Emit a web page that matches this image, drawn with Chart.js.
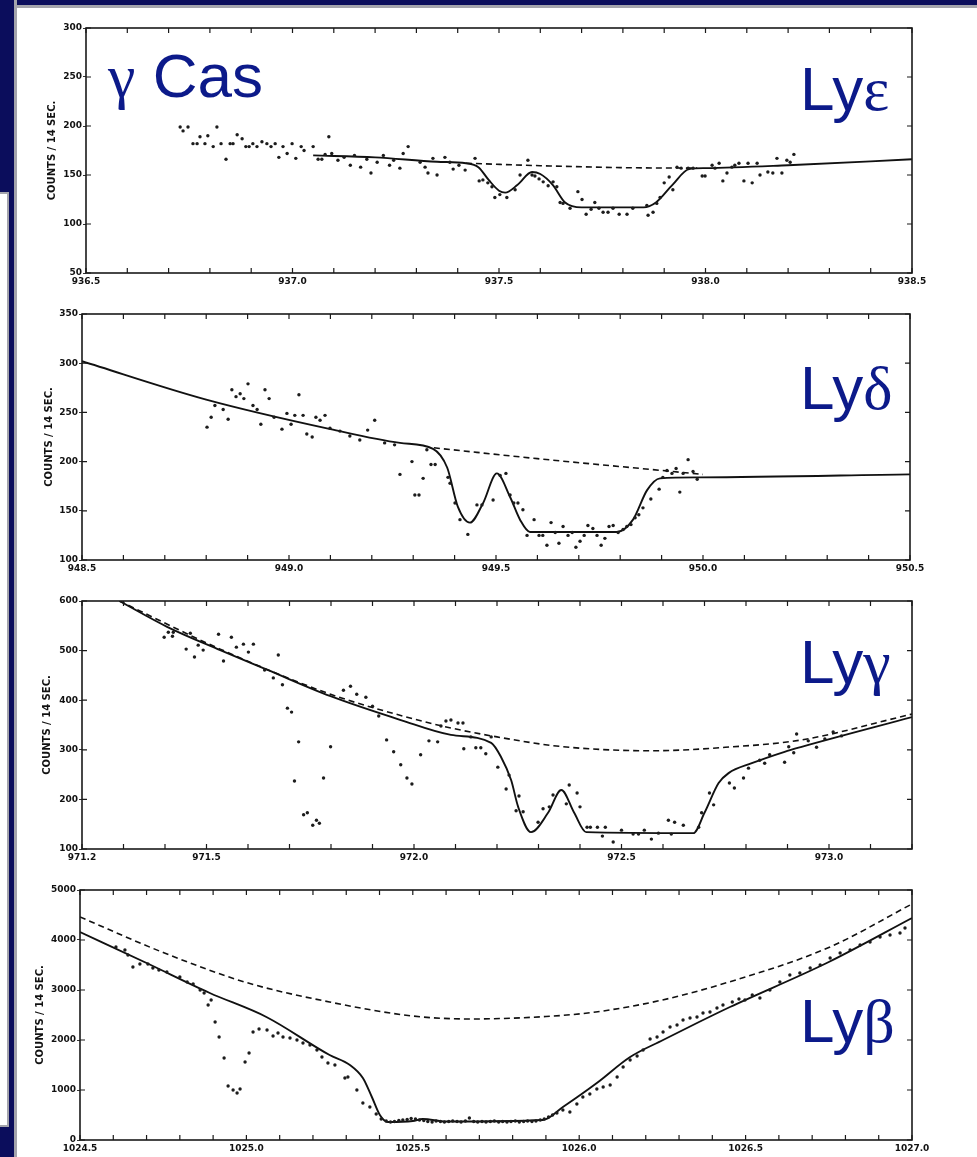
<!DOCTYPE html>
<html>
<head>
<meta charset="utf-8">
<script src="https://cdn.jsdelivr.net/npm/chart.js@4.4.1/dist/chart.umd.min.js"></script>
<style>
  html, body { margin: 0; padding: 0; background: #fff; }
  body { width: 977px; height: 1157px; position: relative; overflow: hidden; font-family: 'Liberation Sans', Arial, sans-serif; }
  .bar-top { position: absolute; left: 0; top: 0; width: 977px; height: 5px; background: #0b0d5c; border-bottom: 3px solid #a4a4ac; }
  .bar-left { position: absolute; left: 0; top: 0; width: 14px; height: 1157px; background: #0b0d5c; border-right: 3px solid #a4a4ac; }
  .box-left { position: absolute; left: 0; top: 192px; width: 7px; height: 931px; background: #fff; border: 2px solid #a4a4ac; border-left: none; }
  canvas { position: absolute; }
  .lbl { position: absolute; color: #0c1a8a; font-size: 62px; line-height: 62px; white-space: nowrap; }
  .gk { font-family: 'Liberation Serif', 'DejaVu Serif', serif; }
</style>
</head>
<body>
<div class="bar-top"></div>
<div class="bar-left"></div>
<div class="box-left"></div>

<canvas id="lyEps"></canvas>
<canvas id="lyDel"></canvas>
<canvas id="lyGam"></canvas>
<canvas id="lyBet"></canvas>

<div class="lbl" style="left:108px; top:45px;"><span class="gk">γ</span> Cas</div>
<div class="lbl" style="left:800px; top:58px;">Ly<span class="gk">ε</span></div>
<div class="lbl" style="left:800px; top:357px;">Ly<span class="gk">δ</span></div>
<div class="lbl" style="left:800px; top:631px;">Ly<span class="gk">γ</span></div>
<div class="lbl" style="left:800px; top:990px;">Ly<span class="gk">β</span></div>

<script>
// ---- Ly epsilon ----
const lyEpsX = [936.728, 936.735, 936.747, 936.759, 936.769, 936.776, 936.788, 936.795, 936.808, 936.817,
    936.827, 936.839, 936.849, 936.856, 936.866, 936.878, 936.887, 936.895, 936.904, 936.914,
    936.926, 936.938, 936.948, 936.958, 936.967, 936.977, 936.987, 936.999, 937.008, 937.021,
    937.028, 937.050, 937.062, 937.071, 937.079, 937.088,
    937.095, 937.110, 937.125, 937.140, 937.150, 937.165, 937.180, 937.190, 937.205, 937.220, 937.235, 937.245,
    937.260, 937.268, 937.280, 937.309, 937.321, 937.328, 937.340, 937.350, 937.369, 937.381,
    937.389, 937.403, 937.418, 937.442, 937.452, 937.461, 937.473, 937.483, 937.490, 937.502,
    937.519, 937.539, 937.551, 937.570, 937.580, 937.587, 937.597, 937.607, 937.619, 937.631,
    937.640, 937.648, 937.655, 937.672, 937.691, 937.701, 937.711, 937.723, 937.732, 937.742,
    937.752, 937.764, 937.776, 937.791, 937.810, 937.824, 937.858, 937.861, 937.873, 937.882,
    937.890, 937.900, 937.912, 937.921, 937.931, 937.941, 937.958, 937.970, 937.992, 937.999,
    938.016, 938.023, 938.033, 938.042, 938.052, 938.064, 938.071, 938.081, 938.093, 938.103,
    938.113, 938.125, 938.132, 938.151, 938.163, 938.173, 938.185, 938.197, 938.205, 938.214];
const lyEpsY = [199, 195, 199, 182, 182, 189, 182, 190, 179, 199,
    182, 166, 182, 182, 191, 187, 179, 179, 182, 179,
    184, 182, 179, 182, 168, 179, 172, 182, 167, 179,
    175, 179, 166, 166, 171, 189,
    172, 165, 168, 160, 170, 158, 166, 152, 163, 170, 160, 165,
    157, 172, 179, 163, 158, 152, 167, 150, 168, 163,
    156, 160, 155, 167, 144, 145, 142, 138, 127, 130,
    127, 135, 150, 165, 150, 149, 146, 143, 139, 143,
    138, 122, 121, 116, 133, 125, 110, 115, 122, 116,
    112, 112, 116, 110, 110, 116, 119, 109, 112, 121,
    127, 142, 148, 135, 158, 157, 157, 157, 149, 149,
    160, 157, 162, 144, 152, 158, 160, 162, 144, 162,
    142, 162, 150, 153, 152, 167, 152, 165, 163, 171];
const lyEpsFitX = [937.05, 937.2, 937.35, 937.42, 937.45, 937.475, 937.5, 937.515, 937.545, 937.58,
    937.6, 937.63, 937.66, 937.7, 937.85, 937.88, 937.92, 937.96, 938.0, 938.2, 938.5];
const lyEpsFitY = [170, 168, 163.5, 162, 158, 145, 134, 132, 140, 153,
    151, 140, 122, 117, 117, 122, 140, 156, 157, 160, 166];
const lyEpsContX = [937.42, 937.6, 937.8, 937.98];
const lyEpsContY = [162, 159.5, 157.5, 157];
const lyEpsXLabels = [936.5, 937.0, 937.5, 938.0, 938.5];

// ---- Ly delta ----
const lyDelX = [948.802, 948.812, 948.821, 948.841, 948.853, 948.862, 948.872, 948.882, 948.891, 948.901,
    948.913, 948.923, 948.932, 948.942, 948.952, 948.964, 948.983, 948.995, 949.005, 949.014,
    949.024, 949.034, 949.043, 949.056, 949.065, 949.075, 949.087,
    949.099, 949.123, 949.147, 949.171, 949.190, 949.207, 949.231, 949.255,
    949.268, 949.297, 949.304, 949.314, 949.324, 949.333, 949.343, 949.353, 949.384, 949.389,
    949.401, 949.413, 949.432, 949.454, 949.466, 949.493, 949.510, 949.524, 949.534, 949.543,
    949.553, 949.565, 949.575, 949.592, 949.604, 949.613, 949.623, 949.633, 949.643, 949.652,
    949.662, 949.674, 949.684, 949.693, 949.703, 949.713, 949.722, 949.734, 949.744, 949.754,
    949.763, 949.773, 949.783, 949.795, 949.807, 949.816, 949.826, 949.836, 949.845, 949.855,
    949.874, 949.894, 949.903, 949.913, 949.925, 949.935, 949.944, 949.952, 949.964, 949.976, 949.986];
const lyDelY = [235, 245, 257, 253, 243, 273, 266, 269, 264, 279,
    257, 253, 238, 273, 264, 245, 233, 249, 238, 247,
    268, 247, 228, 225, 245, 242, 247,
    234, 231, 226, 222, 232, 242, 219, 217,
    187, 200, 166, 166, 183, 212, 197, 197, 184, 178,
    158, 141, 126, 156, 156, 161, 186, 188, 166, 158,
    158, 151, 125, 141, 125, 125, 115, 138, 128, 117,
    134, 125, 128, 113, 119, 125, 135, 132, 125, 115,
    122, 134, 135, 128, 131, 134, 136, 143, 146, 153,
    162, 172, 184, 191, 188, 193, 169, 188, 202, 190, 182];
const lyDelFitX = [948.5, 948.8, 949.1, 949.268, 949.348, 949.382, 949.408, 949.437, 949.469, 949.502,
    949.534, 949.558, 949.582, 949.792, 949.831, 949.865, 949.896, 949.993, 950.5];
const lyDelFitY = [302, 263, 233, 219, 213, 194, 154, 138, 158, 188,
    164, 141, 128.5, 128.5, 141, 171, 183, 184, 187];
const lyDelContX = [949.35, 949.6, 949.9, 950.0];
const lyDelContY = [214, 203, 191, 187];
const lyDelXLabels = [948.5, 949.0, 949.5, 950.0, 950.5];

// ---- Ly gamma ----
const lyGamX = [971.398, 971.408, 971.420, 971.418, 971.451, 971.461, 971.471, 971.480, 971.492, 971.529,
    971.541, 971.560, 971.572, 971.589, 971.601, 971.613, 971.640, 971.661, 971.673, 971.683,
    971.695, 971.705, 971.722, 971.712, 971.734, 971.743, 971.756, 971.765, 971.772, 971.782, 971.799,
    971.830, 971.847, 971.862, 971.884, 971.900, 971.915, 971.934, 971.951, 971.968, 971.983,
    971.995, 972.016, 972.036, 972.057, 972.065, 972.077,
    972.089, 972.106, 972.118, 972.120, 972.137, 972.149, 972.161, 972.173, 972.186, 972.202,
    972.222, 972.229, 972.246, 972.253, 972.263, 972.299, 972.311, 972.326, 972.335, 972.367,
    972.374, 972.393, 972.400, 972.417, 972.425, 972.442, 972.454, 972.461, 972.480, 972.500,
    972.528, 972.541, 972.555, 972.572, 972.589, 972.613, 972.620, 972.628, 972.649, 972.686,
    972.693, 972.712, 972.722, 972.760, 972.772, 972.794, 972.806, 972.833, 972.845, 972.857,
    972.893, 972.903, 972.915, 972.922, 972.950, 972.970, 972.990, 973.010, 973.030];
const lyGamY = [527, 537, 537, 529, 503, 535, 487, 511, 501, 533,
    479, 527, 507, 513, 497, 513, 461, 445, 491, 431,
    384, 376, 316, 237, 169, 173, 148, 158, 152, 243, 306,
    420, 428, 412, 406, 388, 368, 320, 296, 270, 243,
    231, 290, 318, 316, 348, 358,
    360, 354, 354, 302, 326, 304, 304, 292, 326, 265,
    221, 249, 177, 207, 175, 154, 181, 185, 209, 191,
    229, 213, 185, 144, 144, 144, 126, 144, 114, 138,
    130, 130, 138, 120, 132, 158, 130, 154, 148, 144,
    173, 213, 189, 233, 223, 243, 263, 279, 273, 290,
    275, 306, 294, 332, 318, 305, 322, 336, 328];
const lyGamFitX = [971.29, 971.405, 971.533, 971.647, 971.799, 971.968, 972.089, 972.186, 972.21, 972.234,
    972.251, 972.282, 972.323, 972.355, 972.386, 972.415, 972.673, 972.7, 972.734, 972.758,
    972.814, 972.893, 972.934, 973.2];
const lyGamFitY = [600, 548, 501, 461, 408, 360, 330, 314, 285, 239,
    185, 134, 173, 219, 173, 134, 132, 173, 233, 253,
    273, 296, 306, 366];
const lyGamContX = [971.29, 971.533, 971.799, 972.0, 972.089, 972.2, 972.35, 972.572, 972.75, 972.934, 973.2];
const lyGamContY = [600, 503, 412, 362, 344, 326, 307, 298, 305, 320, 372];
const lyGamXLabels = [971.2, 971.5, 972.0, 972.5, 973.0];

// ---- Ly beta ----
const lyBetX = [1024.608, 1024.635, 1024.644, 1024.659, 1024.680, 1024.704, 1024.719, 1024.737, 1024.761, 1024.800,
    1024.822, 1024.840, 1024.861, 1024.873, 1024.885, 1024.894, 1024.906, 1024.918, 1024.933, 1024.945,
    1024.960, 1024.972, 1024.981, 1024.996, 1025.008, 1025.020, 1025.038, 1025.062, 1025.080, 1025.095,
    1025.110, 1025.131, 1025.152, 1025.170, 1025.191, 1025.212, 1025.227, 1025.245,
    1025.266, 1025.296, 1025.305, 1025.332, 1025.350, 1025.371, 1025.390, 1025.405,
    1025.420, 1025.433, 1025.445, 1025.458, 1025.470, 1025.483, 1025.495, 1025.508, 1025.520, 1025.533,
    1025.545, 1025.558, 1025.570, 1025.583, 1025.595, 1025.608, 1025.620, 1025.633, 1025.645, 1025.658,
    1025.670, 1025.683, 1025.695, 1025.708, 1025.720, 1025.733, 1025.745, 1025.758, 1025.770, 1025.783,
    1025.795, 1025.808, 1025.820, 1025.833, 1025.845, 1025.858, 1025.870, 1025.883, 1025.895, 1025.908, 1025.920,
    1025.933, 1025.951, 1025.972, 1025.993, 1026.011, 1026.032, 1026.053, 1026.072, 1026.093, 1026.114,
    1026.132, 1026.153, 1026.174, 1026.192, 1026.213, 1026.234, 1026.252, 1026.273, 1026.294, 1026.312,
    1026.333, 1026.354, 1026.372, 1026.393, 1026.414, 1026.432, 1026.460, 1026.480, 1026.498, 1026.520,
    1026.543, 1026.573, 1026.603, 1026.633, 1026.663, 1026.694, 1026.724, 1026.754, 1026.784, 1026.814,
    1026.844, 1026.874, 1026.904, 1026.934, 1026.964, 1026.979];
const lyBetY = [3860, 3800, 3700, 3460, 3520, 3520, 3440, 3400, 3360, 3260,
    3160, 3120, 3000, 2940, 2700, 2800, 2360, 2060, 1640, 1080,
    1000, 940, 1020, 1560, 1740, 2160, 2220, 2200, 2080, 2140,
    2060, 2040, 2000, 1940, 1900, 1800, 1660, 1540,
    1500, 1240, 1260, 1000, 740, 660, 520, 420,
    380, 360, 370, 390, 400, 410, 430, 420, 400, 390,
    370, 360, 380, 370, 360, 370, 380, 370, 360, 380,
    440, 370, 360, 370, 360, 370, 380, 360, 370, 360,
    370, 380, 360, 370, 380, 370, 380, 400, 420, 460, 500,
    540, 600, 560, 720, 860, 920, 1020, 1060, 1100, 1260,
    1460, 1600, 1680, 1800, 2020, 2060, 2160, 2260, 2300, 2400,
    2440, 2460, 2540, 2560, 2640, 2700, 2760, 2820, 2800, 2900,
    2840, 3000, 3160, 3300, 3340, 3440, 3500, 3640, 3740, 3800,
    3900, 3960, 4060, 4100, 4140, 4240];
const lyBetFitX = [1024.5, 1024.7, 1024.89, 1025.06, 1025.25, 1025.311, 1025.35, 1025.377, 1025.401, 1025.425,
    1025.5, 1025.53, 1025.6, 1025.891, 1025.951, 1026.053, 1026.153, 1026.252, 1026.354, 1026.453,
    1026.75, 1027.0];
const lyBetFitY = [4160, 3540, 2940, 2460, 1700, 1500, 1240, 860, 500, 360,
    380, 420, 370, 400, 660, 1140, 1660, 2000, 2340, 2660,
    3560, 4440];
const lyBetContX = [1024.5, 1024.75, 1025.0, 1025.25, 1025.5, 1025.67, 1025.9, 1026.05, 1026.25, 1026.45, 1026.75, 1027.0];
const lyBetContY = [4460, 3750, 3150, 2760, 2480, 2420, 2470, 2560, 2800, 3160, 3850, 4720];
const lyBetXLabels = [1024.5, 1025.0, 1025.5, 1026.0, 1026.5, 1027.0];

const tickFont = { family: 'DejaVu Sans', size: 9, weight: 'bold' };
const titleFont = { family: 'DejaVu Sans', size: 10, weight: 'bold' };

function pairs(xs, ys) {
    return xs.map((x, i) => ({ x: x, y: ys[i] }));
}

// box outline plus inward tick marks on all four sides, like the printed plots
const frameTicks = {
    id: 'frameTicks',
    afterDatasetsDraw(chart) {
        const { ctx, chartArea: a, scales } = chart;
        ctx.save();
        ctx.strokeStyle = '#1a1a1a';
        ctx.lineWidth = 1.6;
        ctx.strokeRect(a.left, a.top, a.right - a.left, a.bottom - a.top);
        ctx.lineWidth = 1.2;
        ctx.beginPath();
        scales.x.ticks.forEach((t) => {
            const px = scales.x.getPixelForValue(t.value);
            ctx.moveTo(px, a.bottom);
            ctx.lineTo(px, a.bottom - 5);
            ctx.moveTo(px, a.top);
            ctx.lineTo(px, a.top + 5);
        });
        scales.y.ticks.forEach((t) => {
            const py = scales.y.getPixelForValue(t.value);
            ctx.moveTo(a.left, py);
            ctx.lineTo(a.left + 5, py);
            ctx.moveTo(a.right, py);
            ctx.lineTo(a.right - 5, py);
        });
        ctx.stroke();
        ctx.restore();
    },
};

function makePanel(id, area, canvasLeft, xHeight, xMin, xMax, xLabels, yMin, yMax, yStep, pts, fit, cont) {
    const padTop = 9;
    const padRight = 22;
    const el = document.getElementById(id);
    el.width = area.r + padRight - canvasLeft;
    el.height = area.b - area.t + padTop + xHeight;
    el.style.left = canvasLeft + 'px';
    el.style.top = area.t - padTop + 'px';

    return new Chart(el.getContext('2d'), {
        type: 'scatter',
        data: {
            datasets: [
                {
                    data: pts,
                    showLine: false,
                    pointRadius: 1.7,
                    pointBackgroundColor: '#1c1c1c',
                    pointBorderWidth: 0,
                },
                {
                    data: fit,
                    showLine: true,
                    pointRadius: 0,
                    borderColor: '#111',
                    borderWidth: 1.9,
                    cubicInterpolationMode: 'monotone',
                },
                {
                    data: cont,
                    showLine: true,
                    pointRadius: 0,
                    borderColor: '#111',
                    borderWidth: 1.6,
                    borderDash: [6, 4],
                    cubicInterpolationMode: 'monotone',
                },
            ],
        },
        options: {
            responsive: false,
            animation: false,
            devicePixelRatio: 1,
            layout: { padding: { top: padTop, right: padRight, left: 0, bottom: 0 } },
            plugins: {
                legend: { display: false },
                tooltip: { enabled: false },
            },
            scales: {
                x: {
                    type: 'linear',
                    min: xMin,
                    max: xMax,
                    afterFit: (s) => { s.height = xHeight; },
                    grid: { display: false, drawTicks: false },
                    border: { display: false },
                    ticks: {
                        stepSize: 0.1,
                        autoSkip: false,
                        maxRotation: 0,
                        padding: 3,
                        color: '#111',
                        font: tickFont,
                        callback: function (value) {
                            const hit = xLabels.find((l) => Math.abs(l - value) < 1e-6);
                            return hit === undefined ? '' : hit.toFixed(1);
                        },
                    },
                },
                y: {
                    min: yMin,
                    max: yMax,
                    afterFit: (s) => { s.width = area.l - canvasLeft; },
                    grid: { drawOnChartArea: false, tickLength: 3, color: '#333' },
                    border: { display: false },
                    ticks: {
                        stepSize: yStep,
                        padding: 1,
                        color: '#111',
                        font: tickFont,
                        callback: (value) => String(value),
                    },
                    title: { display: true, text: 'COUNTS / 14 SEC.', color: '#111', font: titleFont, padding: 0 },
                },
            },
        },
        plugins: [frameTicks],
    });
}

makePanel('lyEps', { l: 86, r: 912, t: 28, b: 273 }, 46, 22, 936.5, 938.5, lyEpsXLabels, 50, 300, 50,
    pairs(lyEpsX, lyEpsY), pairs(lyEpsFitX, lyEpsFitY), pairs(lyEpsContX, lyEpsContY));
makePanel('lyDel', { l: 82, r: 910, t: 314, b: 560 }, 43, 22, 948.5, 950.5, lyDelXLabels, 100, 350, 50,
    pairs(lyDelX, lyDelY), pairs(lyDelFitX, lyDelFitY), pairs(lyDelContX, lyDelContY));
makePanel('lyGam', { l: 82, r: 912, t: 601, b: 849 }, 41, 22, 971.2, 973.2, lyGamXLabels, 100, 600, 100,
    pairs(lyGamX, lyGamY), pairs(lyGamFitX, lyGamFitY), pairs(lyGamContX, lyGamContY));
makePanel('lyBet', { l: 80, r: 912, t: 890, b: 1140 }, 34, 16, 1024.5, 1027.0, lyBetXLabels, 0, 5000, 1000,
    pairs(lyBetX, lyBetY), pairs(lyBetFitX, lyBetFitY), pairs(lyBetContX, lyBetContY));
</script>
</body>
</html>
